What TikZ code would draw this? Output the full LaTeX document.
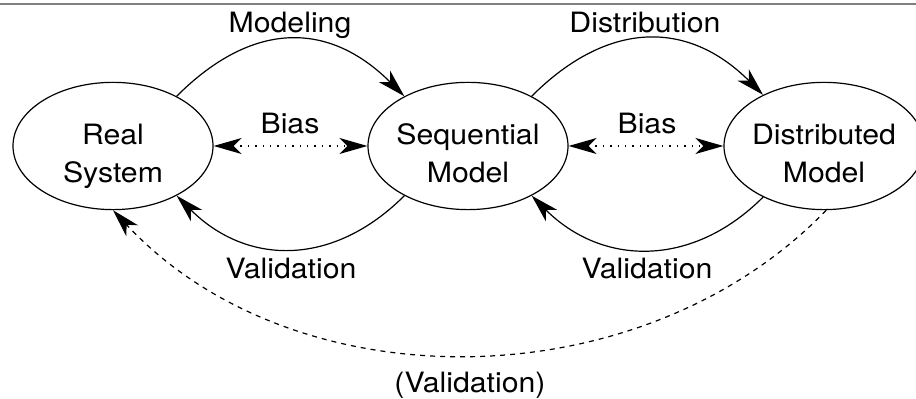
\documentclass[tikz,border=0pt]{standalone}
\usepackage{fontspec}
\setmainfont[FakeStretch=1.08]{TeX Gyre Heros}
\usetikzlibrary{shapes.geometric,arrows.meta}

% two-line state text, with struts that place the lines inside the ellipse
\newcommand{\statetext}[2]{\rule{0pt}{22pt}#1\\#2\rule[-4pt]{0pt}{4pt}}

\begin{document}
\begin{tikzpicture}[x=0.5pt,y=0.5pt,
  state/.style={ellipse,draw,line width=0.6pt,minimum width=100pt,minimum height=56pt,
    inner xsep=-3pt,inner ysep=0pt,align=center,font=\fontsize{14pt}{19pt}\selectfont},
  lbl/.style={anchor=base,inner sep=0pt,font=\fontsize{14pt}{17pt}\selectfont},
  link/.style={line width=0.6pt,-{Stealth[length=14pt,width=8pt,inset=4pt]}},
  bias/.style={line width=0.6pt,dash pattern=on 0.7pt off 3pt,
    {Stealth[length=14pt,width=8pt,inset=4pt]}-{Stealth[length=14pt,width=8pt,inset=4pt]}},
  loose/.style={link,dash pattern=on 2.5pt off 2.5pt}
]
\useasboundingbox (0,0) rectangle (916,399);

% rule along the top edge
\coordinate (ruleL) at (0,395);
\coordinate (ruleR) at (916,395);
\draw[gray,line width=0.9pt] (ruleL) -- (ruleR);

% states
\node[state] (real) at (113,253) {\statetext{Real}{System}};
\node[state] (seq)  at (468,253) {\statetext{Sequential}{Model}};
\node[state] (dist) at (824,253) {\statetext{Distributed}{Model}};

% forward steps
\draw[link] (real.38) .. controls +(45:107) and +(135:107) .. (seq.142);
\draw[link] (seq.38) .. controls +(45:107) and +(135:107) .. (dist.140);

% validation steps
\draw[link] (seq.218) .. controls +(225:100) and +(315:100) .. (real.322);
\draw[link] (dist.220) .. controls +(225:100) and +(315:100) .. (seq.322);

% bias between neighbours
\draw[bias] (real.east) -- (seq.west);
\draw[bias] (seq.east) -- (dist.west);

% indirect validation
\draw[loose] (dist.272) .. controls +(226:266) and +(313:266) .. (real.south);

% labels
\node[lbl] (modlab)  at (290,366) {Modeling};
\node[lbl] (distlab) at (645,366) {Distribution};
\node[lbl] (bias1)   at (290,265) {Bias};
\node[lbl] (bias2)   at (647,265) {Bias};
\node[lbl] (val1)    at (291,120) {Validation};
\node[lbl] (val2)    at (647,120) {Validation};
\node[lbl] (val3)    at (470,6)   {(Validation)};
\end{tikzpicture}
\end{document}
